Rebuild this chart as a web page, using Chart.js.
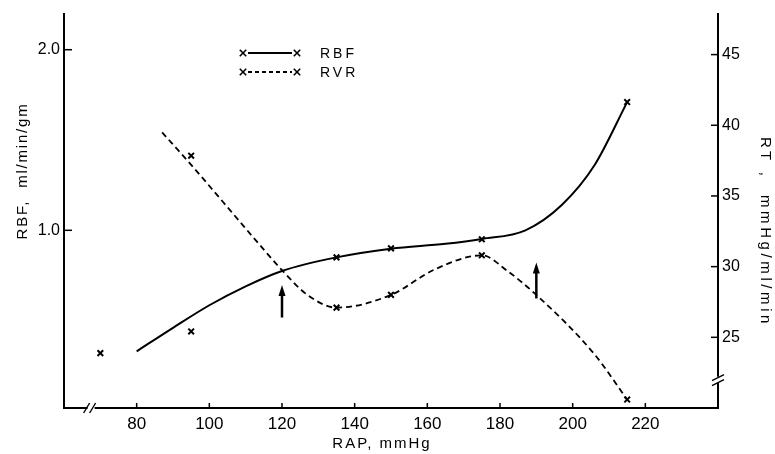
<!DOCTYPE html>
<html>
<head>
<meta charset="utf-8">
<script src="https://cdn.jsdelivr.net/npm/chart.js@4/dist/chart.umd.min.js"></script>
<style>
  html, body { margin: 0; padding: 0; background: #fff; }
  #wrap { width: 775px; height: 454px; }
</style>
</head>
<body>
<div id="wrap"><canvas id="c" width="775" height="454"></canvas></div>
<script>
// ---- data ----
const xTicks = [80, 100, 120, 140, 160, 180, 200, 220];
const yTicks = [1.0, 2.0];
const y1Ticks = [25, 30, 35, 40, 45];

const rbfMarkX = [70, 95, 135, 150, 175, 215];
const rbfMarkY = [0.32, 0.44, 0.85, 0.90, 0.95, 1.71];
const rbfCurveX = [80, 90, 100, 110, 120, 135, 150, 165, 175, 187, 197, 206, 215];
const rbfCurveY = [0.33, 0.46, 0.585, 0.69, 0.775, 0.85, 0.898, 0.925, 0.952, 1.0, 1.14, 1.36, 1.71];

const rvrMarkX = [95, 135, 150, 175, 215];
const rvrMarkY = [37.85, 27.1, 28.0, 30.8, 20.6];
const rvrCurveX = [87, 95, 107, 115, 120, 127, 135, 150, 162, 175, 182, 190, 206, 215];
const rvrCurveY = [39.5, 37.2, 33.6, 31.2, 29.75, 28.0, 27.1, 28.0, 29.8, 30.8, 29.7, 28.0, 23.8, 20.6];

const arrowX = [120, 190];
const arrowTip = [28.7, 30.3];
const arrowTail = [26.4, 27.75];

const xBreak = 67.6;
const y1Break = 22;

const seriesNames = ['RBF', 'RVR'];

const pts = (xs, ys) => xs.map((v, i) => ({ x: v, y: ys[i] }));

const FONT = '"Liberation Sans", Arial, sans-serif';

const bg = {
  id: 'bg',
  beforeDraw(chart) {
    const ctx = chart.ctx;
    ctx.save();
    ctx.fillStyle = '#fff';
    ctx.fillRect(0, 0, chart.width, chart.height);
    ctx.restore();
  }
};

function seg(ctx, x1, y1, x2, y2) {
  ctx.beginPath(); ctx.moveTo(x1, y1); ctx.lineTo(x2, y2); ctx.stroke();
}
function cross(ctx, cx, cy, r) {
  seg(ctx, cx - r, cy - r, cx + r, cy + r);
  seg(ctx, cx - r, cy + r, cx + r, cy - r);
}
function spaced(ctx, sp) { try { ctx.letterSpacing = sp; } catch (e) {} }

const deco = {
  id: 'deco',
  afterDraw(chart) {
    const { ctx, chartArea: a, scales } = chart;
    const x = scales.x, y = scales.y, y1 = scales.y1;
    ctx.save();
    ctx.strokeStyle = '#000';
    ctx.fillStyle = '#000';
    ctx.lineCap = 'butt';

    // inward tick marks
    ctx.lineWidth = 1.5;
    yTicks.forEach(v => { const p = y.getPixelForValue(v); seg(ctx, a.left, p, a.left + 8, p); });
    y1Ticks.forEach(v => { const p = y1.getPixelForValue(v); seg(ctx, a.right - 7, p, a.right, p); });
    xTicks.forEach(v => { const p = x.getPixelForValue(v); seg(ctx, p, a.bottom, p, a.bottom - 5); });

    // axis break on x axis
    const bx = x.getPixelForValue(xBreak);
    ctx.fillStyle = '#fff';
    ctx.fillRect(bx - 4, a.bottom - 2, 7, 4);
    ctx.fillStyle = '#000';
    ctx.lineWidth = 1.4;
    seg(ctx, bx - 8, a.bottom + 5, bx - 2, a.bottom - 5);
    seg(ctx, bx - 2, a.bottom + 5, bx + 4, a.bottom - 5);

    // axis break on right axis
    const by = y1.getPixelForValue(y1Break);
    ctx.fillStyle = '#fff';
    ctx.fillRect(a.right - 2, by - 3, 4, 6);
    ctx.fillStyle = '#000';
    seg(ctx, a.right - 6, by + 1, a.right + 6, by - 5);
    seg(ctx, a.right - 6, by + 6, a.right + 6, by);

    // arrows
    arrowX.forEach((v, i) => {
      const px = x.getPixelForValue(v);
      const pt = y1.getPixelForValue(arrowTip[i]);
      const pb = y1.getPixelForValue(arrowTail[i]);
      ctx.lineWidth = 2.5;
      seg(ctx, px, pb, px, pt + 8);
      ctx.beginPath();
      ctx.moveTo(px, pt);
      ctx.lineTo(px - 3.5, pt + 11);
      ctx.lineTo(px + 3.5, pt + 11);
      ctx.closePath();
      ctx.fill();
    });

    // legend (inside plot)
    const lx0 = 243, lx1 = 297, tx = 320;
    const rows = [53, 72];
    rows.forEach((ry, i) => {
      ctx.lineWidth = 1.6;
      cross(ctx, lx0, ry, 3.2);
      cross(ctx, lx1, ry, 3.2);
      ctx.lineWidth = 1.8;
      ctx.setLineDash(i === 0 ? [] : [4, 3]);
      seg(ctx, lx0 + 5, ry, lx1 - 5, ry);
      ctx.setLineDash([]);
      ctx.font = '14px ' + FONT;
      spaced(ctx, '3px');
      ctx.textAlign = 'left';
      ctx.textBaseline = 'middle';
      ctx.fillText(seriesNames[i], tx, ry + 1);
      spaced(ctx, '0px');
    });

    // axis titles
    ctx.textAlign = 'center';
    ctx.textBaseline = 'middle';

    ctx.font = '15px ' + FONT;
    spaced(ctx, '2px');
    ctx.fillText('RAP, mmHg', 382, 444);

    ctx.save();
    ctx.translate(23, 171);
    ctx.rotate(-Math.PI / 2);
    spaced(ctx, '1.8px');
    ctx.fillText('RBF,  ml/min/gm', 0, 0);
    ctx.restore();

    ctx.save();
    ctx.translate(765, 232);
    ctx.rotate(Math.PI / 2);
    spaced(ctx, '3.6px');
    ctx.fillText('RT ,  mmHg/ml/min', 0, 0);
    ctx.restore();
    spaced(ctx, '0px');

    ctx.restore();
  }
};

new Chart(document.getElementById('c'), {
  type: 'scatter',
  data: {
    datasets: [
      {
        label: 'RBF curve', data: pts(rbfCurveX, rbfCurveY), yAxisID: 'y',
        showLine: true, borderColor: '#000', borderWidth: 2, pointRadius: 0,
        cubicInterpolationMode: 'monotone', fill: false
      },
      {
        label: 'RBF', data: pts(rbfMarkX, rbfMarkY), yAxisID: 'y',
        showLine: false, pointStyle: 'crossRot', pointRadius: 4, borderColor: '#000',
        borderWidth: 2, backgroundColor: '#000'
      },
      {
        label: 'RVR curve', data: pts(rvrCurveX, rvrCurveY), yAxisID: 'y1',
        showLine: true, borderColor: '#000', borderWidth: 1.8, borderDash: [6, 4], pointRadius: 0,
        cubicInterpolationMode: 'monotone', fill: false
      },
      {
        label: 'RVR', data: pts(rvrMarkX, rvrMarkY), yAxisID: 'y1',
        showLine: false, pointStyle: 'crossRot', pointRadius: 4, borderColor: '#000',
        borderWidth: 2, backgroundColor: '#000'
      }
    ]
  },
  options: {
    responsive: false,
    animation: false,
    events: [],
    layout: { padding: { top: 8, left: 0, right: 0, bottom: 0 } },
    plugins: { legend: { display: false }, tooltip: { enabled: false } },
    scales: {
      x: {
        type: 'linear', position: 'bottom', min: 60, max: 240,
        afterBuildTicks: s => { s.ticks = xTicks.map(v => ({ value: v })); },
        afterFit: s => { s.height = 46; },
        grid: { display: false, drawTicks: false },
        border: { display: true, color: '#000', width: 2 },
        ticks: { color: '#000', padding: 6, font: { family: FONT, size: 17 }, maxRotation: 0 }
      },
      y: {
        type: 'linear', position: 'left', min: 0.016, max: 2.2,
        afterBuildTicks: s => { s.ticks = yTicks.map(v => ({ value: v })); },
        afterFit: s => { s.width = 64; },
        grid: { display: false, drawTicks: false },
        border: { display: true, color: '#000', width: 2 },
        ticks: { color: '#000', padding: 4, font: { family: FONT, size: 16 }, callback: v => v.toFixed(1) }
      },
      y1: {
        type: 'linear', position: 'right', min: 20, max: 47.9,
        afterBuildTicks: s => { s.ticks = y1Ticks.map(v => ({ value: v })); },
        afterFit: s => { s.width = 57; },
        grid: { display: false, drawTicks: false },
        border: { display: true, color: '#000', width: 2 },
        ticks: { color: '#000', padding: 4, font: { family: FONT, size: 16 } }
      }
    }
  },
  plugins: [bg, deco]
});
</script>
</body>
</html>
